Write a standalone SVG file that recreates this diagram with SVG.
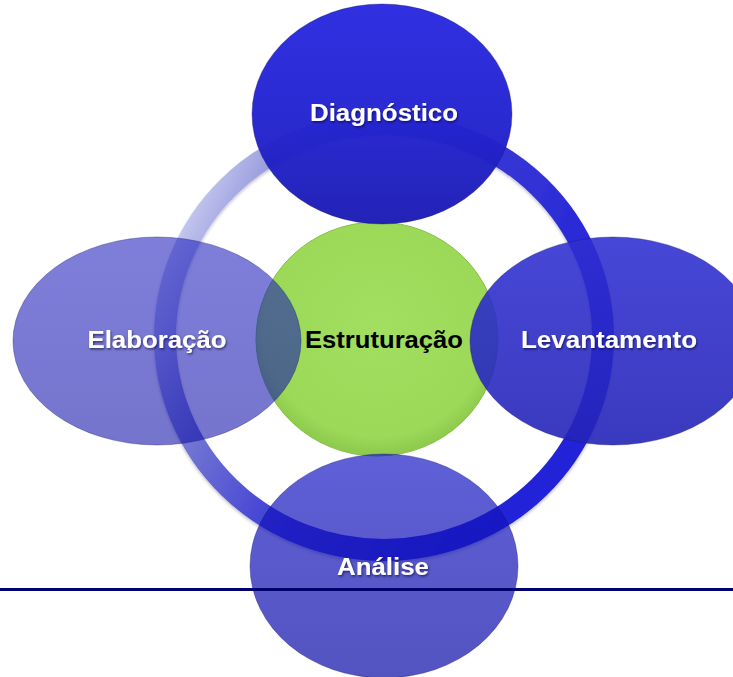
<svg xmlns="http://www.w3.org/2000/svg" width="733" height="677" viewBox="0 0 733 677">
  <defs>
    <linearGradient id="ringGrad" gradientUnits="userSpaceOnUse" x1="150" y1="180" x2="560" y2="380">
      <stop offset="0.1" stop-color="#c6c9ee"/>
      <stop offset="0.32" stop-color="#7478d2"/>
      <stop offset="0.6" stop-color="#3a3ad6"/>
      <stop offset="1" stop-color="#2424d8"/>
    </linearGradient>
    <radialGradient id="greenGrad" cx="0.5" cy="0.45" r="0.55">
      <stop offset="0" stop-color="#a2de60"/>
      <stop offset="0.85" stop-color="#9cd958"/>
      <stop offset="1" stop-color="#8cc94c"/>
    </radialGradient>
    <linearGradient id="topGrad" x1="0" y1="0" x2="0" y2="1">
      <stop offset="0" stop-color="#2c2ce0" stop-opacity="0.98"/>
      <stop offset="0.5" stop-color="#2424d2" stop-opacity="0.97"/>
      <stop offset="1" stop-color="#1c1cb4" stop-opacity="0.97"/>
    </linearGradient>
    <linearGradient id="rightGrad" x1="0" y1="0" x2="0" y2="1">
      <stop offset="0" stop-color="#2e2ed2" stop-opacity="0.88"/>
      <stop offset="1" stop-color="#2424b8" stop-opacity="0.9"/>
    </linearGradient>
    <linearGradient id="leftGrad" x1="0" y1="0" x2="0" y2="1">
      <stop offset="0" stop-color="#1616bc" stop-opacity="0.55"/>
      <stop offset="1" stop-color="#1010a8" stop-opacity="0.58"/>
    </linearGradient>
    <linearGradient id="bottomGrad" x1="0" y1="0" x2="0" y2="1">
      <stop offset="0" stop-color="#1414c4" stop-opacity="0.68"/>
      <stop offset="1" stop-color="#1010a8" stop-opacity="0.72"/>
    </linearGradient>
    <filter id="txtShadow" x="-10%" y="-30%" width="120%" height="160%">
      <feDropShadow dx="1" dy="1.5" stdDeviation="1.2" flood-color="#000033" flood-opacity="0.6"/>
    </filter>
    <filter id="softShadow" x="-10%" y="-10%" width="120%" height="120%">
      <feDropShadow dx="0" dy="2" stdDeviation="1.5" flood-color="#000040" flood-opacity="0.25"/>
    </filter>
  </defs>
  <style>
    .lbl { font-family: "Liberation Sans", Arial, sans-serif; font-weight: bold; font-size: 23px; text-anchor: middle; }
    .white { fill: #ffffff; filter: url(#txtShadow); }
    .dark { fill: #000000; }
    .edge { stroke: #14146e; stroke-opacity: 0.35; stroke-width: 1; }
  </style>

  <g id="connectors">
    <ellipse id="ring" cx="384" cy="337" rx="219" ry="213" fill="none" stroke="url(#ringGrad)" stroke-width="22" filter="url(#softShadow)"/>
  </g>

  <g id="node-estruturacao">
    <ellipse cx="377" cy="339" rx="121" ry="117" fill="url(#greenGrad)" stroke="#86c046" stroke-width="1"/>
    <text class="lbl dark" x="384" y="348" textLength="158" lengthAdjust="spacingAndGlyphs">Estruturação</text>
  </g>

  <g id="node-elaboracao">
    <ellipse class="edge" cx="157" cy="341" rx="144" ry="104" fill="url(#leftGrad)"/>
    <text class="lbl white" x="157" y="348" textLength="139" lengthAdjust="spacingAndGlyphs">Elaboração</text>
  </g>

  <g id="node-analise">
    <ellipse class="edge" cx="384" cy="566" rx="134" ry="112" fill="url(#bottomGrad)"/>
    <text class="lbl white" x="383" y="575" textLength="92" lengthAdjust="spacingAndGlyphs">Análise</text>
  </g>

  <g id="node-levantamento">
    <ellipse class="edge" cx="613" cy="341" rx="143" ry="104" fill="url(#rightGrad)"/>
    <text class="lbl white" x="609" y="348" textLength="176" lengthAdjust="spacingAndGlyphs">Levantamento</text>
  </g>

  <g id="node-diagnostico">
    <ellipse class="edge" cx="382" cy="114" rx="130" ry="110" fill="url(#topGrad)"/>
    <text class="lbl white" x="384" y="121" textLength="148" lengthAdjust="spacingAndGlyphs">Diagnóstico</text>
  </g>

  <g id="divider">
    <line x1="0" y1="589.5" x2="733" y2="589.5" stroke="#00006e" stroke-width="3"/>
  </g>
</svg>
